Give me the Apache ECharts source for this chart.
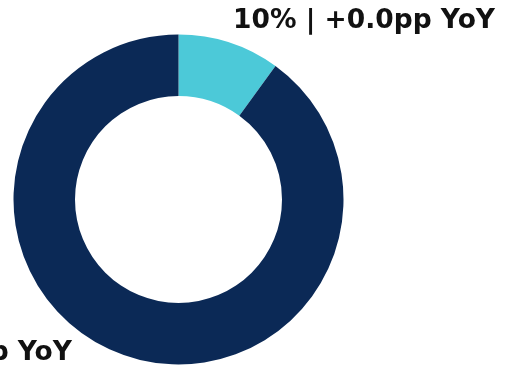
<!DOCTYPE html>
<html>
<head>
<meta charset="utf-8">
<script src="https://cdn.jsdelivr.net/npm/echarts@6/dist/echarts.min.js"></script>
<style>
  html, body { margin: 0; padding: 0; background: #ffffff; }
  #chart { width: 505px; height: 368px; }
</style>
</head>
<body>
<div id="chart"></div>
<script>
// Share of the total per segment and its year-over-year change (percentage points)
const segments = ['Segment A', 'Segment B'];
const shares = [10, 90];
const yoyChange = ['+0.0', '+0.0'];
const colors = ['#4cc9d8', '#0b2956'];

const chart = echarts.init(document.getElementById('chart'), null, { renderer: 'canvas' });

// Where each label sits relative to the donut
const labelSpots = [
  { x: 233, y: 21, align: 'left' },
  { x: 72, y: 353, align: 'right' }
];

chart.setOption({
  animation: false,
  series: [{
    type: 'pie',
    center: [178.5, 199.5],
    radius: [103.5, 165],
    startAngle: 90,
    clockwise: true,
    avoidLabelOverlap: false,
    data: segments.map((name, i) => ({
      name,
      value: shares[i],
      itemStyle: { color: colors[i] }
    })),
    label: {
      show: true,
      position: 'outside',
      formatter: (p) => `${shares[p.dataIndex]}% | ${yoyChange[p.dataIndex]}pp YoY`,
      fontFamily: 'DejaVu Sans',
      fontWeight: 'bold',
      fontSize: 26.5,
      color: '#111111'
    },
    labelLine: { show: false },
    labelLayout: (params) => {
      const spot = labelSpots[params.dataIndex];
      return { x: spot.x, y: spot.y, align: spot.align, verticalAlign: 'middle' };
    },
    emphasis: { disabled: true }
  }]
});
</script>
</body>
</html>
